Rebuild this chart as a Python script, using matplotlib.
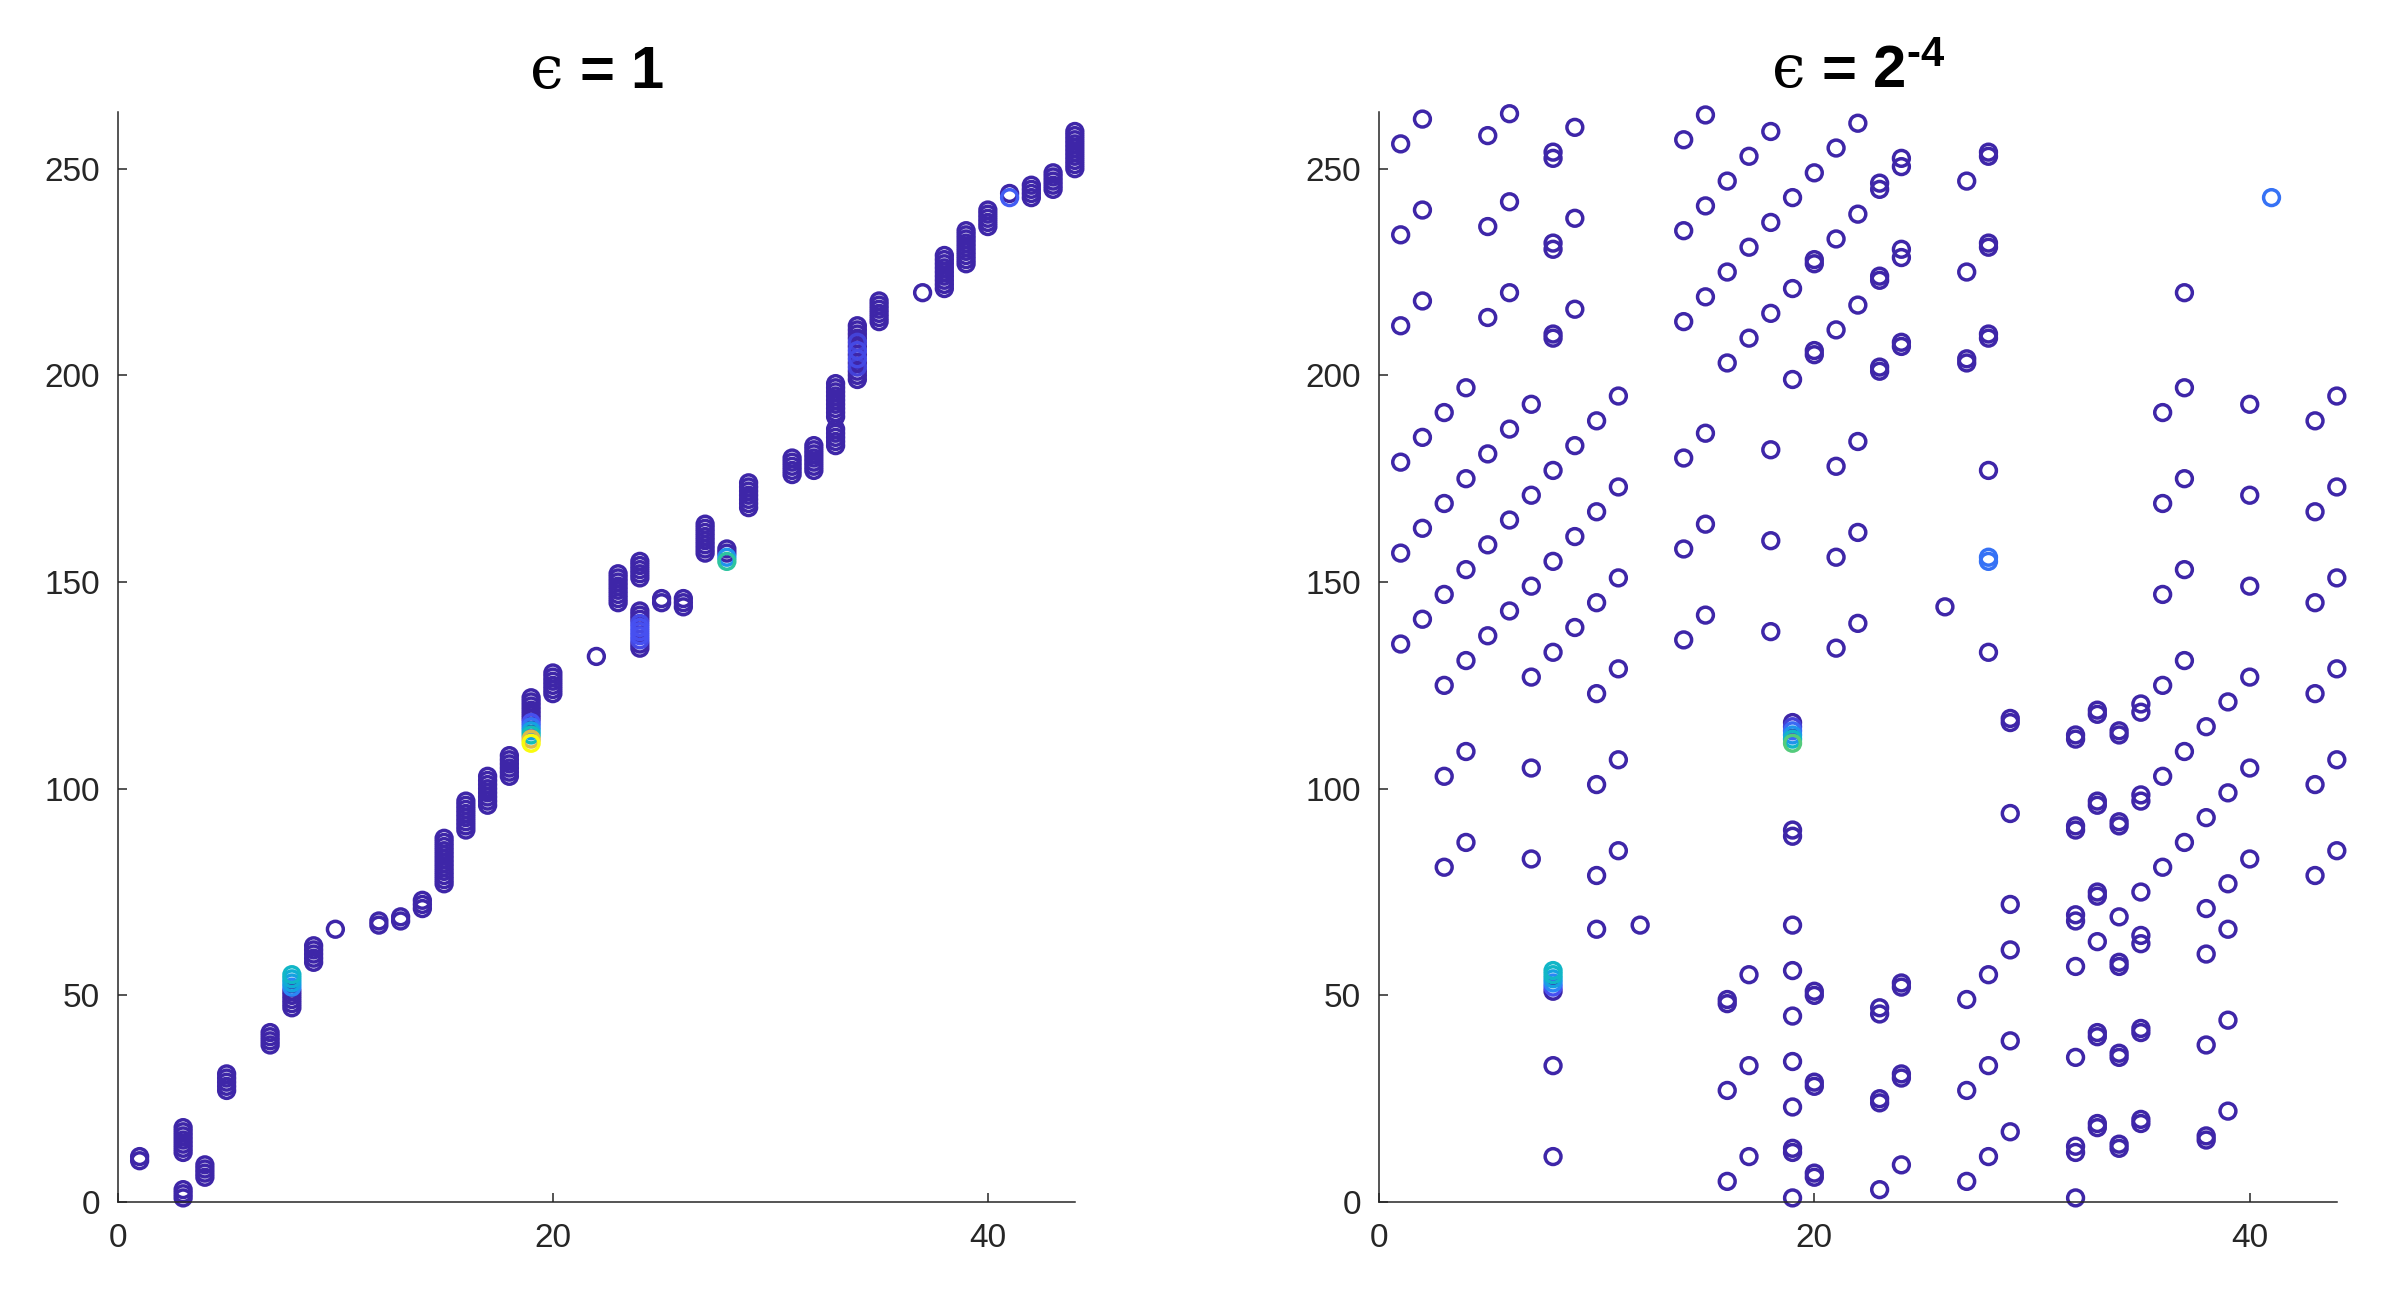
import numpy as np
import matplotlib
matplotlib.use('Agg')
import matplotlib.pyplot as plt
from matplotlib.colors import LinearSegmentedColormap

plt.rcParams['font.family'] = ['Liberation Sans', 'DejaVu Sans']
plt.rcParams['mathtext.fontset'] = 'custom'
plt.rcParams['mathtext.rm'] = 'Liberation Sans'
plt.rcParams['mathtext.bf'] = 'Liberation Sans:bold'
plt.rcParams['mathtext.it'] = 'DejaVu Serif'

# ---- data: eps = 1 (column x -> y values) ----
left_x = [1, 3, 4, 5, 7, 8, 9, 10, 12, 13, 14, 15, 16, 17, 18, 19, 20, 22,
          23, 24, 25, 26, 27, 28, 29, 31, 32, 33, 34, 35, 37, 38, 39, 40,
          41, 42, 43, 44]
left_y = [
    [10, 11],
    [1, 2, 3, 12, 13, 14, 15, 16, 17, 18],
    [6, 7, 8, 9],
    [27, 28, 29, 30, 31],
    [38, 39, 40, 41],
    [47, 48, 49, 50, 51, 52, 53, 54, 55],
    [58, 59, 60, 61, 62],
    [66],
    [67, 68],
    [68, 69],
    [71, 72, 73],
    [77, 78, 79, 80, 81, 82, 83, 84, 85, 86, 87, 88],
    [90, 91, 92, 93, 94, 95, 96, 97],
    [96, 97, 98, 99, 100, 101, 102, 103],
    [103, 104, 105, 106, 107, 108],
    [111, 112, 113, 114, 115, 116, 117, 118, 119, 120, 121, 122],
    [123, 124, 125, 126, 127, 128],
    [132],
    [145, 146, 147, 148, 149, 150, 151, 152],
    [134, 135, 136, 137, 138, 139, 140, 141, 142, 143, 151, 152, 153, 154, 155],
    [145, 146],
    [144, 145, 146],
    [157, 158, 159, 160, 161, 162, 163, 164],
    [155, 156, 157, 158],
    [168, 169, 170, 171, 172, 173, 174],
    [176, 177, 178, 179, 180],
    [177, 178, 179, 180, 181, 182, 183],
    [183, 184, 185, 186, 187, 190, 191, 192, 193, 194, 195, 196, 197, 198],
    [199, 200, 201, 202, 203, 204, 205, 206, 207, 208, 209, 210, 211, 212],
    [213, 214, 215, 216, 217, 218],
    [220],
    [221, 222, 223, 224, 225, 226, 227, 228, 229],
    [227, 228, 229, 230, 231, 232, 233, 234, 235],
    [236, 237, 238, 239, 240],
    [243, 244],
    [243, 244, 245, 246],
    [245, 246, 247, 248, 249],
    [250, 251, 252, 253, 254, 255, 256, 257, 258, 259],
]
# points with a higher colour value (x, y, value)
left_hi = [(8, 52, 0.25), (8, 53, 0.35), (8, 54, 0.4), (8, 55, 0.45),
           (19, 111, 1.0), (19, 112, 0.85), (19, 113, 0.5), (19, 114, 0.35),
           (19, 115, 0.2), (19, 116, 0.12),
           (28, 155, 0.55), (28, 156, 0.3),
           (24, 136, 0.1), (24, 137, 0.12), (24, 138, 0.12), (24, 139, 0.12),
           (24, 140, 0.1),
           (34, 202, 0.08), (34, 204, 0.1), (34, 206, 0.1), (34, 208, 0.08),
           (41, 243, 0.15)]

# ---- data: eps = 2^-4 ----
right_x = [1, 2, 3, 4, 5, 6, 7, 8, 9, 10, 11, 12, 14, 15, 16, 17, 18, 19, 20,
           21, 22, 23, 24, 26, 27, 28, 29, 32, 33, 34, 35, 36, 37, 38, 39, 40,
           41, 43, 44]
right_y = [
    [256, 234, 212, 179, 157, 135],
    [262, 240, 218, 185, 163, 141],
    [191, 169, 147, 125, 103, 81],
    [197, 175, 153, 131, 109, 87],
    [258, 236, 214, 181, 159, 137],
    [263.3, 242, 220, 187, 165, 143],
    [193, 171, 149, 127, 105, 83],
    [252.5, 254, 230.5, 232, 209, 210, 177, 155, 133,
     51, 52, 53, 54, 55, 56, 33, 11],
    [260, 238, 216, 183, 161, 139],
    [189, 167, 145, 123, 101, 79, 66],
    [195, 173, 151, 129, 107, 85],
    [67],
    [257, 235, 213, 180, 158, 136],
    [263, 241, 219, 186, 164, 142],
    [247, 225, 203, 48, 49, 27, 5],
    [253, 231, 209, 55, 33, 11],
    [259, 237, 215, 182, 160, 138],
    [243, 221, 199, 111, 112, 113, 114, 115, 116,
     88.5, 90, 67, 56, 45, 34, 23, 12, 13, 1],
    [249, 227, 228, 205, 206, 50, 51, 28, 29, 6, 7],
    [255, 233, 211, 178, 156, 134],
    [261, 239, 217, 184, 162, 140],
    [245, 246.5, 223, 224, 201, 202, 45.5, 47, 24, 25, 3],
    [250.5, 252.5, 228.5, 230.5, 207, 208, 52, 53, 30, 31, 9],
    [144],
    [247, 225, 203, 204, 49, 27, 5],
    [253, 254, 231, 232, 209, 210, 177, 155, 156, 133, 55, 33, 11],
    [116, 117, 94, 72, 61, 39, 17],
    [112, 113, 90, 91, 68, 69.5, 57, 35, 12, 13.5, 1],
    [118, 119, 96, 97, 74, 75, 63, 40, 41, 18, 19],
    [113, 114, 91, 92, 69, 57, 58, 35, 36, 13, 14],
    [118.5, 120.5, 97, 98.5, 75, 62.5, 64.5, 41, 42, 19, 20],
    [191, 169, 147, 125, 103, 81],
    [220, 197, 175, 153, 131, 109, 87],
    [115, 93, 71, 60, 38, 15, 16],
    [121, 99, 77, 66, 44, 22],
    [193, 171, 149, 127, 105, 83],
    [243],
    [189, 167, 145, 123, 101, 79],
    [195, 173, 151, 129, 107, 85],
]
right_hi = [(8, 56, 0.45), (8, 55, 0.45), (8, 54, 0.35), (8, 53, 0.25),
            (8, 52, 0.12),
            (19, 111, 0.62), (19, 112, 0.45), (19, 113, 0.3), (19, 114, 0.18),
            (19, 115, 0.08),
            (28, 155, 0.2), (28, 156, 0.2),
            (41, 243, 0.2)]

# parula-like colormap
parula = LinearSegmentedColormap.from_list('parula', [
    (0.2422, 0.1504, 0.6603), (0.2803, 0.3242, 0.9577),
    (0.1649, 0.5270, 0.9596), (0.0590, 0.6658, 0.8611),
    (0.0704, 0.7457, 0.7258), (0.3412, 0.8000, 0.4760),
    (0.6473, 0.7456, 0.4188), (0.9200, 0.7300, 0.2550),
    (0.9763, 0.9831, 0.0538)])


def draw_panel(ax, xs, ys, hi, title):
    hl = {(h[0], h[1]): h[2] for h in hi}
    px, py, pc = [], [], []
    for x, col in zip(xs, ys):
        for y in col:
            px.append(x)
            py.append(y)
            pc.append(hl.get((x, y), 0.0))
    px, py, pc = np.array(px), np.array(py), np.array(pc)
    order = np.argsort(pc, kind='stable')
    ax.scatter(px[order], py[order], s=130, marker='o', facecolors='none',
               edgecolors=parula(pc[order]), linewidths=2.5, clip_on=False)

    ax.set_xlim(0, 44)
    ax.set_ylim(0, 263.7)
    ax.set_xticks([0, 20, 40])
    ax.set_yticks([0, 50, 100, 150, 200, 250])
    for s in ['top', 'right']:
        ax.spines[s].set_visible(False)
    for s in ['left', 'bottom']:
        ax.spines[s].set_color('#262626')
        ax.spines[s].set_linewidth(1.1)
    ax.tick_params(direction='in', length=6.5, width=1.1, colors='#262626',
                   labelsize=24)
    ax.tick_params(axis='y', pad=13)
    ax.tick_params(axis='x', pad=15)
    ax.set_title(title, fontsize=43, fontweight='bold', pad=17)


fig = plt.figure(figsize=(23.96, 12.91), dpi=100)
ax1 = fig.add_axes([0.0492, 0.0689, 0.3994, 0.8443])
ax2 = fig.add_axes([0.5755, 0.0689, 0.3998, 0.8443])

draw_panel(ax1, left_x, left_y, left_hi, '$\u03f5$ = 1')
draw_panel(ax2, right_x, right_y, right_hi, '$\u03f5$ = 2${}^{\\mathbf{\u20104}}$')

fig.savefig('out.png', dpi=100)
